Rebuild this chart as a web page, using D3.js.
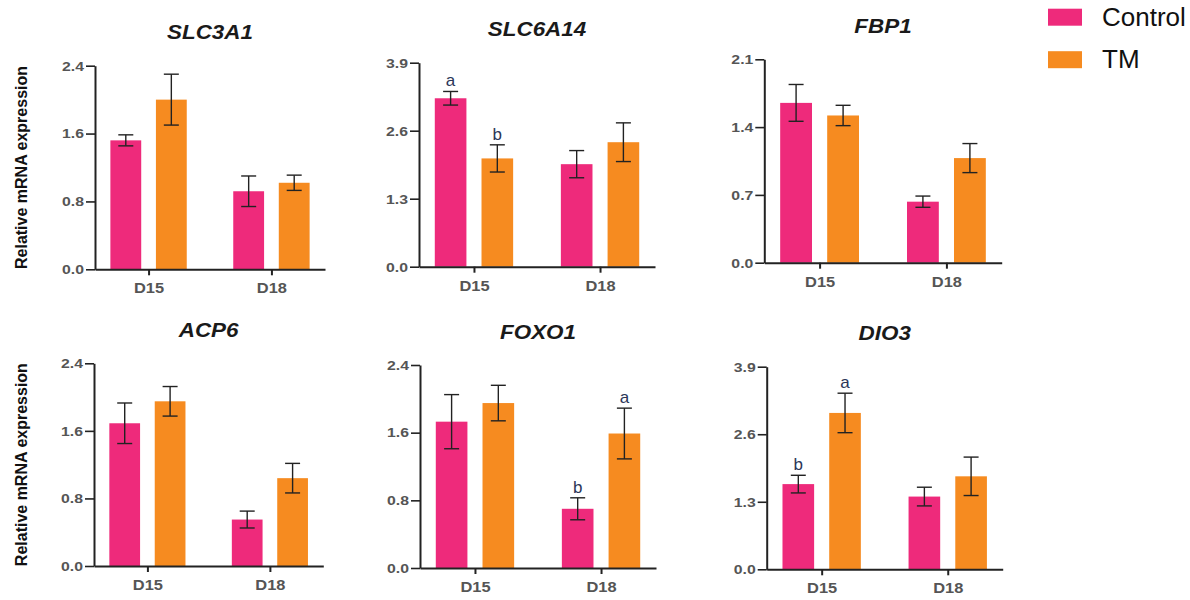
<!DOCTYPE html>
<html>
<head>
<meta charset="utf-8">
<script src="https://cdn.jsdelivr.net/npm/d3@7"></script>
<style>
  html, body { margin: 0; padding: 0; background: #fff; }
  svg { display: block; font-family: "Liberation Sans", Arial, sans-serif; }
</style>
</head>
<body>
<svg id="chart" width="1190" height="600"></svg>
<script>
// Relative mRNA expression of six genes at D15 and D18 (mean ± error)
const genes = ["SLC3A1", "SLC6A14", "FBP1", "ACP6", "FOXO1", "DIO3"];
const days = ["D15", "D18"];
const groups = ["Control", "TM"];

const controlMean = [[1.52, 0.92], [3.22, 1.96], [1.65, 0.63], [1.69, 0.55], [1.73, 0.70], [1.64, 1.40]];
const controlErr  = [[0.065, 0.18], [0.13, 0.26], [0.19, 0.058], [0.24, 0.10], [0.32, 0.13], [0.17, 0.18]];
const tmMean      = [[2.00, 1.02], [2.07, 2.38], [1.52, 1.08], [1.95, 1.04], [1.95, 1.59], [3.01, 1.79]];
const tmErr       = [[0.30, 0.09], [0.26, 0.37], [0.105, 0.15], [0.175, 0.175], [0.21, 0.30], [0.38, 0.37]];

const yTicks = [
  [0, 0.8, 1.6, 2.4],
  [0, 1.3, 2.6, 3.9],
  [0, 0.7, 1.4, 2.1],
  [0, 0.8, 1.6, 2.4],
  [0, 0.8, 1.6, 2.4],
  [0, 1.3, 2.6, 3.9]
];

// significance letters: [gene, day, group, letter]
const sigLetters = [
  ["SLC6A14", "D15", "Control", "a"],
  ["SLC6A14", "D15", "TM", "b"],
  ["FOXO1", "D18", "Control", "b"],
  ["FOXO1", "D18", "TM", "a"],
  ["DIO3", "D15", "Control", "b"],
  ["DIO3", "D15", "TM", "a"]
];

const colors = { Control: "#EE2A7B", TM: "#F68B20" };
const FONT = "'Liberation Sans', Arial, sans-serif";

// plot-area placement of each panel
const frames = [
  { left: 95,    top: 65.7,  w: 230,   h: 203.6 },
  { left: 419,   top: 62.7,  w: 236,   h: 204 },
  { left: 764.3, top: 59.3,  w: 237.4, h: 203.4 },
  { left: 94,    top: 363.3, w: 229.3, h: 202.7 },
  { left: 420,   top: 365,   w: 236,   h: 203 },
  { left: 766.7, top: 366.7, w: 236,   h: 202.6 }
];

const svg = d3.select("#chart");
const tickStretch = 1.17;

genes.forEach((gene, gi) => {
  const f = frames[gi];
  const g = svg.append("g").attr("transform", `translate(${f.left},${f.top})`);
  const ticks = yTicks[gi];
  const yMax = ticks[ticks.length - 1];

  const x0 = d3.scalePoint().domain(days).range([0, f.w]).padding(0.436);
  const groupSpan = 0.332 * f.w;
  const x1 = d3.scaleBand().domain(groups).range([-groupSpan / 2, groupSpan / 2]).paddingInner(0.323);
  const y = d3.scaleLinear().domain([0, yMax]).range([f.h, 0]);

  const rows = [];
  days.forEach((day, di) => {
    rows.push({ day, group: "Control", mean: controlMean[gi][di], err: controlErr[gi][di] });
    rows.push({ day, group: "TM", mean: tmMean[gi][di], err: tmErr[gi][di] });
  });

  // bars
  g.selectAll("rect.bar").data(rows).join("rect")
    .attr("class", "bar")
    .attr("x", d => x0(d.day) + x1(d.group))
    .attr("width", x1.bandwidth())
    .attr("y", d => y(d.mean))
    .attr("height", d => f.h - y(d.mean))
    .attr("fill", d => colors[d.group]);

  // error bars
  const capHalf = 7.5;
  const eb = g.selectAll("g.err").data(rows).join("g")
    .attr("class", "err")
    .attr("transform", d => `translate(${x0(d.day) + x1(d.group) + x1.bandwidth() / 2},0)`)
    .attr("stroke", "#222")
    .attr("stroke-width", 1.4);
  eb.append("line")
    .attr("y1", d => y(d.mean + d.err)).attr("y2", d => y(d.mean - d.err));
  eb.append("line")
    .attr("x1", -capHalf).attr("x2", capHalf)
    .attr("y1", d => y(d.mean + d.err)).attr("y2", d => y(d.mean + d.err));
  eb.append("line")
    .attr("x1", -capHalf).attr("x2", capHalf)
    .attr("y1", d => y(d.mean - d.err)).attr("y2", d => y(d.mean - d.err));

  // significance letters
  sigLetters.filter(s => s[0] === gene).forEach(([, day, group, letter]) => {
    const r = rows.find(d => d.day === day && d.group === group);
    g.append("text")
      .attr("x", x0(day) + x1(group) + x1.bandwidth() / 2)
      .attr("y", y(r.mean + r.err) - 5)
      .attr("text-anchor", "middle")
      .attr("font-size", 17)
      .attr("fill", "#2B3658")
      .text(letter);
  });

  // y axis
  const yAxis = g.append("g")
    .call(d3.axisLeft(y).tickValues(ticks).tickFormat(d3.format(".1f")).tickSize(9).tickSizeOuter(0))
    .attr("font-family", FONT);
  yAxis.select(".domain").attr("stroke", "#222").attr("stroke-width", 2);
  yAxis.selectAll(".tick line").attr("stroke", "#222").attr("stroke-width", 1.6);
  yAxis.selectAll(".tick text")
    .attr("x", -11 / tickStretch)
    .attr("transform", `scale(${tickStretch},1)`)
    .attr("font-size", 13.5)
    .attr("font-weight", "bold")
    .attr("fill", "#555");

  // x axis
  const xAxis = g.append("g")
    .attr("transform", `translate(0,${f.h})`)
    .call(d3.axisBottom(x0).tickSize(6).tickPadding(7).tickSizeOuter(0))
    .attr("font-family", FONT);
  xAxis.select(".domain").attr("stroke", "#222").attr("stroke-width", 2);
  xAxis.selectAll(".tick line").attr("stroke", "#222").attr("stroke-width", 2);
  xAxis.selectAll(".tick text")
    .attr("transform", "scale(1.06,1)")
    .attr("font-size", 15.5)
    .attr("font-weight", "bold")
    .attr("fill", "#555");

  // title
  svg.append("text")
    .attr("transform", `translate(${f.left + f.w / 2},${f.top - 26.5}) scale(1.15,1)`)
    .attr("text-anchor", "middle")
    .attr("font-size", 19.5)
    .attr("font-weight", "bold")
    .attr("font-style", "italic")
    .attr("fill", "#1a1a1a")
    .text(gene);

  // y-axis label on the first column
  if (gi % 3 === 0) {
    svg.append("text")
      .attr("transform", `translate(27,${f.top + f.h / 2}) rotate(-90)`)
      .attr("text-anchor", "middle")
      .attr("font-size", 16)
      .attr("font-weight", "bold")
      .attr("fill", "#111")
      .text("Relative mRNA expression");
  }
});

// legend
const legend = svg.append("g").attr("transform", "translate(1048,0)");
groups.forEach((grp, i) => {
  legend.append("rect")
    .attr("x", 0).attr("y", 8.7 + i * 42.5)
    .attr("width", 34).attr("height", 17)
    .attr("fill", colors[grp]);
  legend.append("text")
    .attr("x", 54).attr("y", 25.5 + i * 42.5)
    .attr("font-size", 26)
    .attr("fill", "#111")
    .text(grp);
});
</script>
</body>
</html>
